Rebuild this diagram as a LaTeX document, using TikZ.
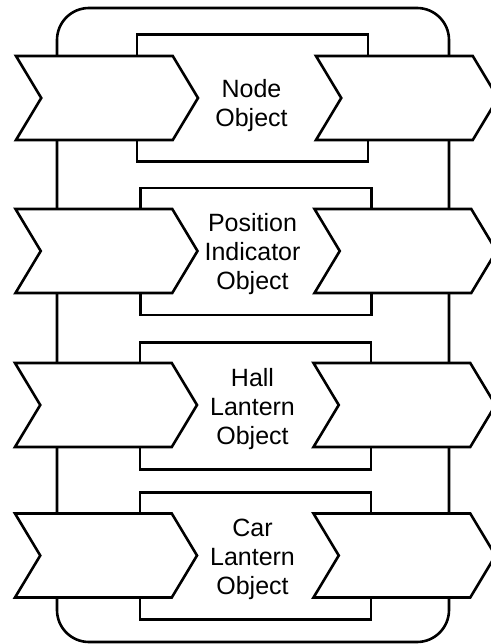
\documentclass[tikz,border=0pt]{standalone}
\usepackage{fontspec}
\setmainfont{Liberation Sans}
\usetikzlibrary{shapes.symbols}

\begin{document}
\begin{tikzpicture}[
  x=1pt, y=-1pt,
  frame/.style={draw, line width=2.6pt, rounded corners=32pt, minimum width=392pt, minimum height=634pt, inner sep=0pt},
  objbox/.style={draw, line width=2.6pt, minimum width=231pt, minimum height=127pt, inner sep=0pt},
  objtext/.style={inner sep=0pt, align=center, font=\fontsize{25}{29}\selectfont},
  chev/.style={draw, fill=white, line width=2.6pt, shape=signal, signal from=west, signal to=east, signal pointer angle=118, minimum width=182pt, minimum height=84pt, inner sep=0pt}
]
  \useasboundingbox (0,0) rectangle (490,644);

  \node[frame] (cabinet) at (253, 325) {};

  \node[objbox] (node) at (252.5, 98) {};
  \node[objbox] (posind) at (256, 251.5) {};
  \node[objbox] (hall) at (255.5, 406) {};
  \node[objbox] (car) at (255.5, 556) {};

  \node[objtext] (nodetext) at (251.5, 106) {Node\\Object};
  \node[objtext] (posindtext) at (252.5, 254.5) {Position\\Indicator\\Object};
  \node[objtext] (halltext) at (252.5, 409.5) {Hall\\Lantern\\Object};
  \node[objtext] (cartext) at (252.5, 559.5) {Car\\Lantern\\Object};

  \node[chev] (nodein) at (107, 98) {};
  \node[chev] (nodeout) at (407, 98) {};
  \node[chev] (posindin) at (106.5, 251) {};
  \node[chev] (posindout) at (405.5, 251) {};
  \node[chev] (hallin) at (106, 405) {};
  \node[chev] (hallout) at (404.5, 405) {};
  \node[chev] (carin) at (106, 555.5) {};
  \node[chev] (carout) at (404.5, 555.5) {};
\end{tikzpicture}
\end{document}
